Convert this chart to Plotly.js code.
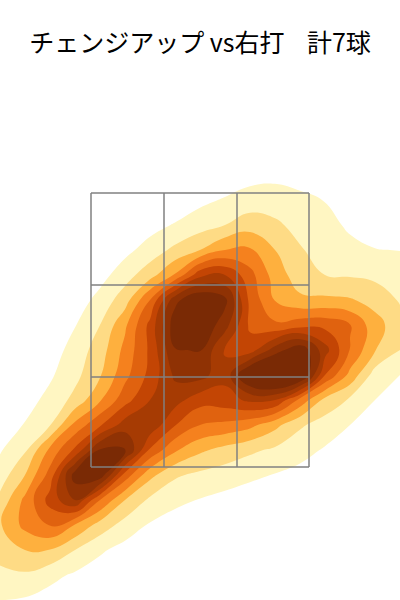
<!DOCTYPE html>
<html><head><meta charset="utf-8">
<script src="https://cdn.plot.ly/plotly-3.0.1.min.js"></script>
<style>html,body{margin:0;padding:0;background:#fff}</style></head>
<body><div id="chart" style="width:400px;height:600px"></div>
<script>
const chartTitle = 'チェンジアップ vs右打\u00a0\u00a0\u00a0\u00a0計7球';
const xGrid = [0,25,50,75,100,125,150,175,200,225,250,275,300,325,350,375,400];
const yGrid = [175,200,225,250,275,300,325,350,375,400,425,450,475,500,525,550,575,600];
const density = [
[0,0,0,0,0,0,0,0,.15,.3,.65,.75,.6,.3,.1,0,0],
[0,0,0,0,0,0,.03,.15,.75,1.1,1.43,1.46,1.23,.97,.5,.3,.2],
[0,0,0,0,0,.1,.6,1.09,1.55,2.0,2.55,2.2,1.65,1.3,.85,.6,.4],
[0,0,0,0,.1,.7,1.45,2.24,3.0,4.0,4.13,3.0,2.1,1.55,1.24,1.03,.98],
[0,0,0,.05,.6,1.58,2.58,4.1,6.7,7.0,5.36,3.53,2.48,2.0,1.9,1.75,1.45],
[0,0,.02,.4,1.36,2.53,5.0,8.7,10,9.3,5.73,3.95,3.2,3.2,3.1,2.63,1.9],
[0,0,.1,.95,2.0,3.8,6.3,9.6,10,8.4,5.8,5.2,5.6,5.7,5.05,3.4,2.4],
[0,0,.5,1.4,2.5,4.3,6.2,8.95,9.05,6.9,6.5,8.5,9.8,7.4,4.95,3.05,2.0],
[0,.1,.85,1.7,2.9,4.7,6.3,8.2,8.4,7.3,10.5,11.5,10.5,6.0,3.7,1.55,1.0],
[.2,.6,1.3,2.3,3.9,5.6,7.0,7.4,6.4,6.6,7.2,7.0,4.7,2.7,1.85,1.0,.55],
[.6,1.05,1.95,4.3,5.85,7.5,7.75,6.05,5.0,4.75,4.3,3.3,2.15,1.55,1.0,.5,.3],
[.9,1.85,4.25,6.2,9.1,9.2,5.85,4.15,3.2,2.65,2.2,1.82,1.35,.9,.55,.3,.15],
[1.45,3.0,5.4,9.5,9.7,5.6,3.3,2.15,1.77,1.5,1.2,.95,.7,.45,.25,.1,0],
[2.28,4.25,6.4,8.0,5.0,3.0,1.8,1.25,.95,.7,.5,.3,.2,.1,.05,0,0],
[2.9,4.3,5.1,3.95,2.6,1.6,.9,.55,.35,.2,.1,.05,0,0,0,0,0],
[2.4,3.0,2.95,2.0,1.15,.65,.35,.2,.1,.05,0,0,0,0,0,0,0],
[1.75,1.85,1.3,.85,.5,.25,.15,.05,0,0,0,0,0,0,0,0,0],
[1.0,.9,.6,.35,.15,.05,0,0,0,0,0,0,0,0,0,0,0]
];
const bandColors = ['#ffffff','#fff6c2','#fedb85','#feb03e','#f5811e','#e0620f','#c34504','#a63b03','#8f3204','#7a2a05'];
const zoneX = [91,164,237,309];
const zoneY = [193,285,377,467];

const n = bandColors.length;
const colorscale = [];
bandColors.forEach((c,i)=>{ colorscale.push([i/n,c]); colorscale.push([(i+1)/n,c]); });

const gx = [], gy = [];
zoneX.forEach(x=>{ gx.push(x,x,null); gy.push(zoneY[0],zoneY[3],null); });
zoneY.forEach(y=>{ gx.push(zoneX[0],zoneX[3],null); gy.push(y,y,null); });

const traces = [
 {type:'contour', x:xGrid, y:yGrid, z:density, showscale:false, hoverinfo:'skip',
  autocontour:false, contours:{coloring:'fill', start:1, end:9, size:1, showlines:false},
  line:{width:0, smoothing:1.3}, colorscale:colorscale, zmin:0, zmax:10},
 {type:'scatter', mode:'lines', x:gx, y:gy, line:{color:'#808080', width:1.5}, hoverinfo:'skip', showlegend:false}
];
const layout = {
 width:400, height:600, margin:{l:0,r:0,t:0,b:0}, paper_bgcolor:'#fff', plot_bgcolor:'#fff', showlegend:false,
 title:{text:chartTitle, x:0.5, xanchor:'center', y:0.928, yanchor:'middle', font:{family:'"Noto Sans CJK JP"', size:25, color:'#000'}},
 xaxis:{range:[0,400], visible:false, fixedrange:true},
 yaxis:{range:[600,0], visible:false, fixedrange:true}
};
Plotly.newPlot('chart', traces, layout, {displayModeBar:false, staticPlot:true});
</script></body></html>
